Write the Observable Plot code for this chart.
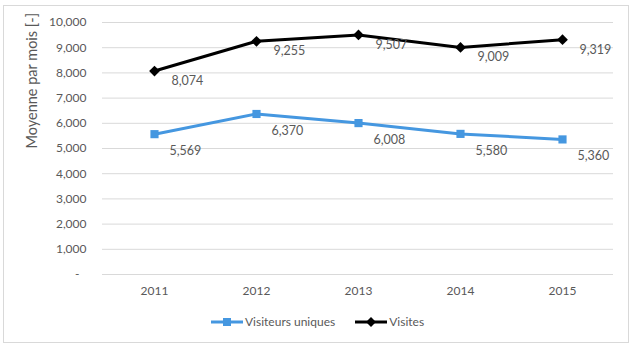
<!DOCTYPE html>
<html>
<head>
<meta charset="utf-8">
<script src="https://cdn.jsdelivr.net/npm/d3@7"></script>
<script src="https://cdn.jsdelivr.net/npm/@observablehq/plot@0.6"></script>
<style>
  body { margin: 0; background: #fff; font-family: Lato, "Open Sans", sans-serif; }
  #frame { position: absolute; left: 3px; top: 5px; width: 626px; height: 338px; border: 1px solid #d9d9d9; box-sizing: border-box; }
  #chart { position: absolute; left: 0; top: 0; }
  #legend { position: absolute; top: 314px; left: 210px; display: flex; align-items: center; font-size: 12px; color: #595959; white-space: nowrap; }
  #legend .item { display: flex; align-items: center; margin-right: 19px; }
  #legend svg { display: block; margin-right: 1px; }
</style>
</head>
<body>
<div id="frame"></div>
<div id="chart"></div>
<div id="legend"></div>
<script>
// Monthly averages per year
const years = ["2011", "2012", "2013", "2014", "2015"];
const visiteursUniques = [5569, 6370, 6008, 5580, 5360];
const visites = [8074, 9255, 9507, 9009, 9319];
const yTicks = [0, 1000, 2000, 3000, 4000, 5000, 6000, 7000, 8000, 9000, 10000];

const seriesNames = ["Visiteurs uniques", "Visites"];
const seriesColors = ["#4597E0", "#000000"];

const uniquesRows = years.map((year, i) => ({year, value: visiteursUniques[i], serie: seriesNames[0]}));
const visitesRows = years.map((year, i) => ({year, value: visites[i], serie: seriesNames[1]}));
const rows = [...uniquesRows, ...visitesRows];

const fmt = d3.format(",");
const yFormat = v => v === 0 ? "-\u2007" : fmt(v);

const chart = Plot.plot({
  width: 631,
  height: 310,
  marginTop: 22,
  marginBottom: 36,
  marginLeft: 102,
  marginRight: 18,
  style: {fontFamily: "Lato, 'Open Sans', sans-serif", fontSize: "12px", color: "#595959", background: "transparent"},
  x: {type: "point", domain: years, padding: 0.5, label: null},
  y: {domain: [0, 10000], label: null},
  color: {domain: seriesNames, range: seriesColors},
  marks: [
    Plot.ruleY(yTicks, {stroke: "#d9d9d9", strokeWidth: 1}),
    Plot.axisY({ticks: yTicks, tickSize: 0, tickPadding: 16, tickFormat: yFormat, label: null, fill: "#595959"}),
    Plot.axisX({tickSize: 0, tickPadding: 12, label: null, fill: "#595959"}),
    Plot.text(["Moyenne par mois [-]"], {frameAnchor: "left", rotate: -90, dx: -70, fontSize: 14.5, fill: "#595959"}),
    Plot.line(rows, {x: "year", y: "value", z: "serie", stroke: "serie", strokeWidth: 3}),
    Plot.dot(uniquesRows, {x: "year", y: "value", symbol: "square", r: 4.6, fill: seriesColors[0], stroke: "none"}),
    Plot.dot(visitesRows, {x: "year", y: "value", symbol: "square", rotate: 45, r: 4.3, fill: seriesColors[1], stroke: "none"}),
    Plot.text(uniquesRows, {x: "year", y: "value", text: d => fmt(d.value), textAnchor: "start", dx: 15, dy: 17, fill: "#595959", fontSize: 12.5}),
    Plot.text(visitesRows, {x: "year", y: "value", text: d => fmt(d.value), textAnchor: "start", dx: 17, dy: 10, fill: "#595959", fontSize: 12.5})
  ]
});
document.getElementById("chart").appendChild(chart);

// Legend: line sample with marker, then series name
const legend = d3.select("#legend");
seriesNames.forEach((name, i) => {
  const item = legend.append("div").attr("class", "item");
  const svg = item.append("svg").attr("width", 34).attr("height", 12);
  svg.append("line").attr("x1", 1).attr("x2", 33).attr("y1", 6).attr("y2", 6)
    .attr("stroke", seriesColors[i]).attr("stroke-width", 3);
  if (i === 0) {
    svg.append("rect").attr("x", 13).attr("y", 2).attr("width", 8).attr("height", 8).attr("fill", seriesColors[i]);
  } else {
    svg.append("rect").attr("x", 13.5).attr("y", 2.5).attr("width", 7).attr("height", 7)
      .attr("fill", seriesColors[i]).attr("transform", "rotate(45 17 6)");
  }
  item.append("span").text(name);
});
</script>
</body>
</html>
